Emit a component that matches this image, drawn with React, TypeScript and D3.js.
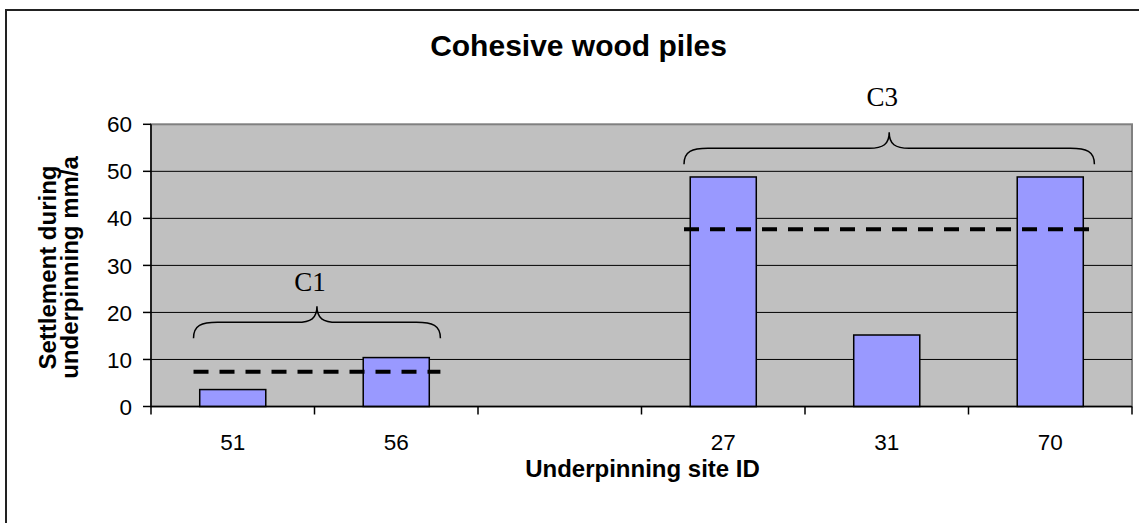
import React from "react";
import * as d3 from "d3";

// ---- data ----
const categories = ["51", "56", "", "27", "31", "70"];
const settlement: (number | null)[] = [3.6, 10.4, null, 48.8, 15.2, 48.8];
const yTicks = [0, 10, 20, 30, 40, 50, 60];

const groupLabels = ["C1", "C3"];
const groupFrom = [0, 3];
const groupTo = [1, 5];
const groupMeans = [7.4, 37.7];
const braceBase = [14.5, 51.5];
const labelLevel = [24.5, 63.9];

const title = "Cohesive wood piles";
const xTitle = "Underpinning site ID";
const yTitleLines = ["Settlement during", "underpinning mm/a"];

const W = 1139;
const H = 523;
const plot = { left: 151, right: 1132, top: 124.3, bottom: 406.5 };
const SANS = "'Liberation Sans', Arial, sans-serif";
const SERIF = "'Liberation Serif', 'Times New Roman', serif";

function bracePath(x0: number, x1: number, yE: number) {
  const yH = yE - 16;
  const yT = yE - 32;
  const xc = (x0 + x1) / 2;
  return [
    `M${x0},${yE}`,
    `C${x0},${yH + 3} ${x0 + 8},${yH} ${x0 + 24},${yH}`,
    `L${xc - 20},${yH}`,
    `C${xc - 6},${yH} ${xc},${yH - 4} ${xc},${yT}`,
    `C${xc},${yH - 4} ${xc + 6},${yH} ${xc + 20},${yH}`,
    `L${x1 - 24},${yH}`,
    `C${x1 - 8},${yH} ${x1},${yH + 3} ${x1},${yE}`,
  ].join(" ");
}

export default function App() {
  const x = d3
    .scaleBand<number>()
    .domain(d3.range(categories.length))
    .range([plot.left, plot.right])
    .padding(0);
  const y = d3.scaleLinear().domain([0, 60]).range([plot.bottom, plot.top]);
  const bw = x.bandwidth();
  const barW = bw * 0.404;
  const center = (i: number) => (x(i) as number) + bw / 2;

  const boundaries = d3.range(categories.length + 1).map((i) =>
    i < categories.length ? (x(i) as number) : plot.right
  );

  return (
    <svg
      width={W}
      height={H}
      style={{ position: "absolute", left: 0, top: 0, display: "block", background: "#fff" }}
    >
      {/* outer chart border */}
      <rect x={6} y={10} width={1300} height={700} fill="none" stroke="#222" strokeWidth={2} />

      {/* title */}
      <text
        x={578.5}
        y={56}
        textAnchor="middle"
        fontFamily={SANS}
        fontWeight="bold"
        fontSize={30}
        fill="#000"
      >
        {title}
      </text>

      {/* plot area */}
      <rect
        x={plot.left}
        y={plot.top}
        width={plot.right - plot.left}
        height={plot.bottom - plot.top}
        fill="#C0C0C0"
        stroke="#808080"
        strokeWidth={2}
      />

      {/* gridlines */}
      {yTicks
        .filter((t) => t > 0 && t < 60)
        .map((t) => (
          <line
            key={"g" + t}
            x1={plot.left}
            x2={plot.right}
            y1={y(t)}
            y2={y(t)}
            stroke="#000"
            strokeWidth={1}
          />
        ))}

      {/* bars */}
      {settlement.map((v, i) =>
        v == null ? null : (
          <rect
            key={"b" + i}
            x={center(i) - barW / 2}
            y={y(v)}
            width={barW}
            height={y(0) - y(v)}
            fill="#9999FF"
            stroke="#000"
            strokeWidth={1.5}
          />
        )
      )}

      {/* group mean dashed lines, braces and labels */}
      {groupLabels.map((lab, g) => {
        const x0 = center(groupFrom[g]) - 0.24 * bw;
        const x1 = center(groupTo[g]) + 0.27 * bw;
        const xc = (x0 + x1) / 2;
        return (
          <g key={"grp" + g}>
            <line
              x1={x0}
              x2={x1}
              y1={y(groupMeans[g])}
              y2={y(groupMeans[g])}
              stroke="#000"
              strokeWidth={4}
              strokeDasharray="15,11"
            />
            <path d={bracePath(x0, x1, y(braceBase[g]))} fill="none" stroke="#000" strokeWidth={1.5} />
            <text
              x={xc - 7}
              y={y(labelLevel[g])}
              textAnchor="middle"
              fontFamily={SERIF}
              fontSize={27}
              fill="#000"
            >
              {lab}
            </text>
          </g>
        );
      })}

      {/* y axis */}
      <line x1={plot.left} x2={plot.left} y1={plot.top} y2={plot.bottom} stroke="#000" strokeWidth={1.5} />
      {yTicks.map((t) => (
        <g key={"yt" + t}>
          <line x1={plot.left - 8} x2={plot.left} y1={y(t)} y2={y(t)} stroke="#000" strokeWidth={1.5} />
          <text
            x={132}
            y={y(t)}
            dy="0.36em"
            textAnchor="end"
            fontFamily={SANS}
            fontSize={22.5}
            fill="#000"
          >
            {t}
          </text>
        </g>
      ))}

      {/* x axis */}
      <line x1={plot.left} x2={plot.right} y1={plot.bottom} y2={plot.bottom} stroke="#000" strokeWidth={1.5} />
      {boundaries.map((bx, i) => (
        <line key={"xt" + i} x1={bx} x2={bx} y1={plot.bottom} y2={plot.bottom + 8} stroke="#000" strokeWidth={1.5} />
      ))}
      {categories.map((c, i) => (
        <text
          key={"xl" + i}
          x={center(i)}
          y={449.5}
          textAnchor="middle"
          fontFamily={SANS}
          fontSize={22.5}
          fill="#000"
        >
          {c}
        </text>
      ))}

      {/* axis titles */}
      <text
        x={642.5}
        y={476.7}
        textAnchor="middle"
        fontFamily={SANS}
        fontWeight="bold"
        fontSize={24}
        fill="#000"
      >
        {xTitle}
      </text>
      {yTitleLines.map((line, i) => {
        const bx = 55.5 + i * 22;
        return (
          <text
            key={"yl" + i}
            transform={`translate(${bx},267.5) rotate(-90)`}
            textAnchor="middle"
            fontFamily={SANS}
            fontWeight="bold"
            fontSize={24}
            fill="#000"
          >
            {line}
          </text>
        );
      })}
    </svg>
  );
}
